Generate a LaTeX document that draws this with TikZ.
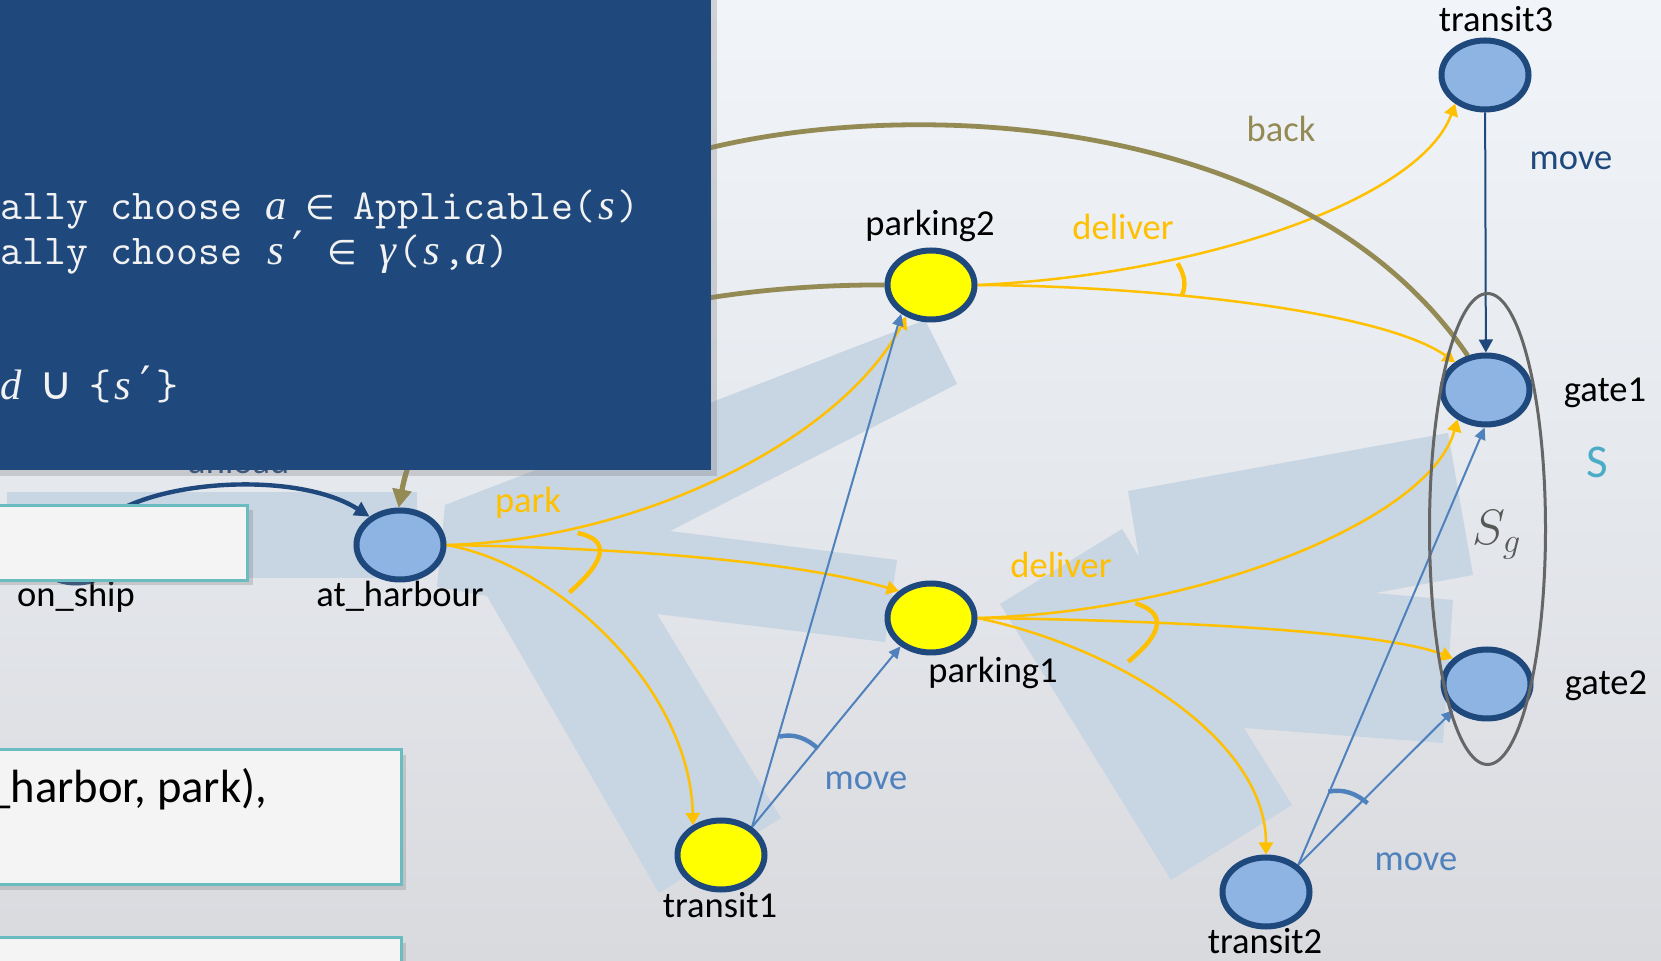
\documentclass[tikz,border=0pt]{standalone}
\usepackage{fontspec}
\setmainfont{Carlito}
\newfontfamily\symfont{DejaVu Sans}
\newfontfamily\slantfont{Liberation Serif}
\usetikzlibrary{shapes.geometric,arrows.meta,shadows}

\definecolor{navy}{RGB}{31,73,125}
\definecolor{stateblue}{RGB}{142,180,227}
\definecolor{stateyellow}{RGB}{255,255,0}
\definecolor{gold}{RGB}{255,192,0}
\definecolor{moveblue}{RGB}{79,129,189}
\definecolor{backolive}{RGB}{148,138,84}
\definecolor{setteal}{RGB}{75,172,198}
\definecolor{frameteal}{RGB}{107,188,192}
\definecolor{paper}{RGB}{244,244,244}
\definecolor{band}{RGB}{200,213,227}
\definecolor{goalgray}{RGB}{102,102,102}
\definecolor{sgtext}{RGB}{88,88,88}
\definecolor{codewhite}{RGB}{242,242,242}
\definecolor{skytop}{RGB}{241,245,250}
\definecolor{skymid}{RGB}{229,232,237}
\definecolor{skybottom}{RGB}{217,218,222}

\pgfdeclarelayer{backdrop}
\pgfdeclarelayer{under}
\pgfsetlayers{backdrop,under,main}

% fixed-pitch cells for the pseudo-code lines
\newcommand\mcell[1]{\makebox[0.525em][c]{#1}}
\newcommand\cellsp{\mcell{}}
\newcommand\itc[1]{\mcell{\slantfont\itshape #1}}
\newcommand\symc[1]{\mcell{\symfont\fontsize{17pt}{17pt}\selectfont #1}}
\newcommand\bigsymc[1]{\mcell{\symfont\fontsize{23pt}{23pt}\selectfont #1}}

\tikzset{
  stnode/.style={ellipse, draw=navy, line width=3pt, minimum width=43.5pt,
    minimum height=34.5pt, inner sep=0pt,
    drop shadow={shadow xshift=1.2pt, shadow yshift=-1.2pt, opacity=0.2}},
  lbl/.style={font=\fontsize{18.25pt}{22pt}\selectfont, inner sep=0pt, anchor=base},
  goldedge/.style={draw=gold, line width=1.25pt, -{Triangle[length=6pt,width=7pt]}},
  moveedge/.style={draw=moveblue, line width=1pt, -{Triangle[length=6pt,width=5.5pt]}},
  stepedge/.style={draw=navy, line width=1pt, -{Triangle[length=6.5pt,width=7pt]}},
  backedge/.style={draw=backolive, line width=2.4pt, -{Triangle[length=9pt,width=9pt]}},
  unloadedge/.style={draw=navy, line width=2.2pt, -{Triangle[length=7.5pt,width=7.5pt]}},
  goldarc/.style={draw=gold, line width=2.2pt},
  movearc/.style={draw=moveblue, line width=2.2pt},
  panel/.style={fill=paper, draw=frameteal, line width=1.5pt,
    drop shadow={shadow xshift=2.5pt, shadow yshift=-2.5pt, opacity=0.3}},
  codeline/.style={anchor=base west, inner sep=0pt, text=codewhite,
    font=\fontsize{21.3pt}{24pt}\selectfont\ttfamily},
}

\begin{document}
\begin{tikzpicture}[x=0.5pt, y=-0.5pt]
\useasboundingbox (0,0) rectangle (1661,961);
\clip (0,0) rectangle (1661,961);

% backdrop
\begin{pgfonlayer}{backdrop}
  \shade[top color=skytop, bottom color=skybottom, middle color=skymid] (0,0) rectangle (1661,961);
\end{pgfonlayer}

% states
\node[stnode, fill=stateblue]   (os) at (76,548)   {};
\node[stnode, fill=stateblue]   (ah) at (400,545)  {};
\node[stnode, fill=stateyellow] (p2) at (931,285)  {};
\node[stnode, fill=stateyellow] (p1) at (931,618)  {};
\node[stnode, fill=stateyellow] (t1) at (721,855)  {};
\node[stnode, fill=stateblue]   (t2) at (1266,892) {};
\node[stnode, fill=stateblue]   (t3) at (1485,75)  {};
\node[stnode, fill=stateblue]   (g1) at (1486,390) {};
\node[stnode, fill=stateblue]   (g2) at (1487,684) {};

\begin{pgfonlayer}{under}
  % highlighted policy bands
  \fill[band] (7,492) rectangle (417,578);
  \fill[band] (445,505) -- (925,320) -- (957,384) -- (670,531) -- (897,560)
    -- (885,642) -- (657,614) -- (781,818) -- (659,893) -- (487,596)
    -- (437,587) -- cycle;
  \fill[band] (1000,604) -- (1122,529) -- (1139,557) -- (1128,491)
    -- (1448,433) -- (1473,575) -- (1375,593) -- (1453,600) -- (1443,743)
    -- (1244,728) -- (1292,805) -- (1171,880) -- cycle;

  % park
  \draw[goldedge] (ah.east) .. controls (640,540) and (840,440) .. (p2.232);
  \draw[goldedge] (ah.east) .. controls (620,548) and (790,560) .. (p1.140);
  \draw[goldedge] (ah.east) .. controls (560,565) and (690,690) .. (t1.133);
  \draw[goldarc] (577.6,533) .. controls (609.9,539.7) and (607.1,559.5) .. (569.4,592.4);

  % deliver from parking2
  \draw[goldedge] (p2.east) .. controls (1200,275) and (1420,200) .. (t3.224);
  \draw[goldedge] (p2.east) .. controls (1150,286) and (1380,310) .. (g1.138);
  \draw[goldarc] (1177.6,263.3) .. controls (1184.8,275) and (1186.3,285.5) .. (1182,295);

  % deliver from parking1
  \draw[goldedge] (p1.east) .. controls (1200,612) and (1430,520) .. (g1.226);
  \draw[goldedge] (p1.east) .. controls (1150,620) and (1380,630) .. (g2.143);
  \draw[goldedge] (p1.east) .. controls (1120,648) and (1266,740) .. (t2.north);
  \draw[goldarc] (1135.4,603.3) .. controls (1166.3,612.8) and (1163.9,632.2) .. (1128.2,661.7);

  % move
  \draw[moveedge] (t1.42) -- (p2.224);
  \draw[moveedge] (t1.42) -- (p1.223);
  \draw[movearc] (779.2,736.7) .. controls (794,733) and (807,738.5) .. (818,748.6);
  \draw[moveedge] (t2.40) -- (g1.268);
  \draw[moveedge] (t2.40) -- (g2.218);
  \draw[movearc] (1328.2,791.7) .. controls (1343,788.5) and (1356.5,793.5) .. (1367.5,803.3);
  \draw[stepedge] (t3) -- (g1);

  % back
  \coordinate (backvia) at (690,153);
  \draw[backedge] (g1.118) .. controls (1300,110) and (900,95) .. (backvia)
    .. controls (522,199) and (420,400) .. (ah.92);
  \draw[backedge] (p2.west) .. controls (700,284) and (430,330) .. (ah.92);

  % unload
  \draw[unloadedge] (os.45) .. controls (160,478) and (300,472) .. (ah.137);
\end{pgfonlayer}

% goal set
\draw[goalgray, line width=1.5pt] (1487.5,529) ellipse [x radius=58, y radius=235.5];
\node[font=\fontsize{27pt}{32pt}\selectfont, text=sgtext, inner sep=0pt, anchor=base] (sg) at (1497,545) {$S_g$};
\node[font=\fontsize{23.5pt}{28pt}\selectfont, text=setteal, inner sep=0pt, anchor=base] (sset) at (1597,478) {S};

% state names
\node[lbl] (l-os) at (76,607)   {on\_ship};
\node[lbl] (l-ah) at (400,607)  {at\_harbour};
\node[lbl] (l-p2) at (930,236)  {parking2};
\node[lbl] (l-p1) at (993,683)  {parking1};
\node[lbl] (l-t1) at (720,918)  {transit1};
\node[lbl] (l-t2) at (1265,954) {transit2};
\node[lbl] (l-t3) at (1496,32)  {transit3};
\node[lbl] (l-g1) at (1605,402) {gate1};
\node[lbl] (l-g2) at (1606,695) {gate2};

% action names
\node[lbl, text=gold]      (a-park)  at (528,513)  {park};
\node[lbl, text=gold]      (a-del2)  at (1123,240) {deliver};
\node[lbl, text=gold]      (a-del1)  at (1061,578) {deliver};
\node[lbl, text=backolive] (a-back)  at (1281,142) {back};
\node[lbl, text=navy]      (a-move3) at (1571,170) {move};
\node[lbl, text=moveblue]  (a-move1) at (866,790)  {move};
\node[lbl, text=moveblue]  (a-move2) at (1416,871) {move};
\node[lbl, text=navy]      (a-unload) at (238,474) {unload};

% text panels
\path[panel] (-10,505.5) rectangle (247.5,580.5);
\path[panel] (-10,750) rectangle (401,885);
\node[font=\fontsize{23.3pt}{28pt}\selectfont, anchor=base west, inner sep=0pt] (plan) at (-13,803) {\_harbor, park),};
\path[panel] (-10,938) rectangle (401,1010);

% algorithm panel
\path[fill=navy, drop shadow={shadow xshift=3pt, shadow yshift=-3pt, opacity=0.3}] (-10,-10) rectangle (711,470);
\node[codeline] (code1) at (0,220)
  {ally\cellsp choose\cellsp\itc{a}\cellsp\symc{∈}\cellsp Applicable(\itc{s})};
\node[codeline] (code2) at (0,265)
  {ally\cellsp choose\cellsp\itc{s}\bigsymc{′}\cellsp\symc{∈}\cellsp\itc{γ}(\itc{s},\itc{a})};
\node[codeline] (code3) at (0,400)
  {\itc{d}\cellsp\bigsymc{∪}\cellsp\{\itc{s}\bigsymc{′}\}};
\end{tikzpicture}
\end{document}
